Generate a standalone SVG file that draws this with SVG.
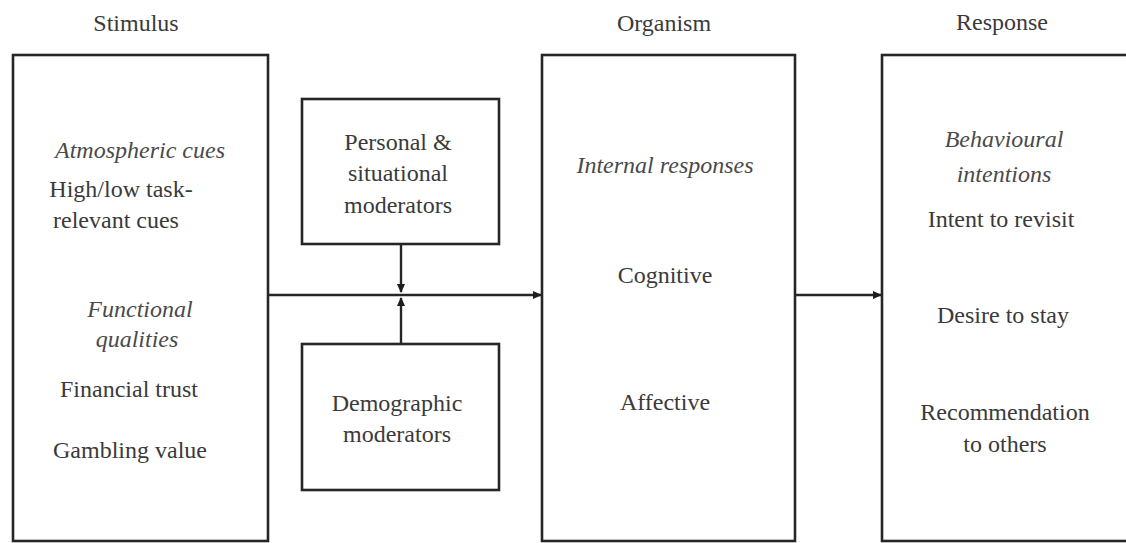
<svg xmlns="http://www.w3.org/2000/svg" width="1126" height="543" viewBox="0 0 1126 543">
  <defs>
    <marker id="arrow" markerUnits="userSpaceOnUse" markerWidth="9" markerHeight="8" refX="8" refY="4" orient="auto">
      <path d="M0,0 L9,4 L0,8 Z" fill="#1e1e1e"/>
    </marker>
    <style>
      .box { fill: #ffffff; stroke: #262626; stroke-width: 2.6; }
      .link { fill: none; stroke: #262626; stroke-width: 2.4; }
      .lbl { font-family: "Liberation Serif", "Times New Roman", "DejaVu Serif", serif; font-size: 24px; fill: #3a3a3a; text-anchor: middle; }
      .it { font-style: italic; fill: #4a4a4a; }
    </style>
  </defs>
  <rect width="1126" height="543" fill="#ffffff"/>

  <!-- column headings -->
  <g id="headings">
    <text class="lbl" x="136" y="31">Stimulus</text>
    <text class="lbl" x="664" y="31">Organism</text>
    <text class="lbl" x="1002" y="30">Response</text>
  </g>

  <!-- stimulus -->
  <g id="stimulus">
    <rect class="box" x="13" y="55" width="255" height="486"/>
    <text class="lbl it" x="140" y="158">Atmospheric cues</text>
    <text class="lbl" x="121" y="197">High/low task-</text>
    <text class="lbl" x="116" y="228">relevant cues</text>
    <text class="lbl it" x="140" y="317">Functional</text>
    <text class="lbl it" x="137" y="347">qualities</text>
    <text class="lbl" x="129" y="397">Financial trust</text>
    <text class="lbl" x="130" y="458">Gambling value</text>
  </g>

  <!-- moderators -->
  <g id="personal-moderators">
    <rect class="box" x="302" y="99" width="197" height="145"/>
    <text class="lbl" x="398" y="150">Personal &amp;</text>
    <text class="lbl" x="398" y="181">situational</text>
    <text class="lbl" x="398" y="213">moderators</text>
  </g>
  <g id="demographic-moderators">
    <rect class="box" x="302" y="344" width="197" height="146"/>
    <text class="lbl" x="397" y="411">Demographic</text>
    <text class="lbl" x="397" y="442">moderators</text>
  </g>

  <!-- organism -->
  <g id="organism">
    <rect class="box" x="542" y="55" width="253" height="486"/>
    <text class="lbl it" x="665" y="173">Internal responses</text>
    <text class="lbl" x="665" y="283">Cognitive</text>
    <text class="lbl" x="665" y="410">Affective</text>
  </g>

  <!-- response -->
  <g id="response">
    <rect class="box" x="882" y="55" width="260" height="486"/>
    <text class="lbl it" x="1004" y="147">Behavioural</text>
    <text class="lbl it" x="1004" y="182">intentions</text>
    <text class="lbl" x="1001" y="227">Intent to revisit</text>
    <text class="lbl" x="1003" y="323">Desire to stay</text>
    <text class="lbl" x="1005" y="420">Recommendation</text>
    <text class="lbl" x="1005" y="452">to others</text>
  </g>

  <!-- connectors -->
  <g id="connectors">
    <line class="link" x1="268" y1="295" x2="541" y2="295" marker-end="url(#arrow)"/>
    <line class="link" x1="401" y1="244" x2="401" y2="292" marker-end="url(#arrow)"/>
    <line class="link" x1="401" y1="344" x2="401" y2="298" marker-end="url(#arrow)"/>
    <line class="link" x1="795" y1="295" x2="881" y2="295" marker-end="url(#arrow)"/>
  </g>
</svg>
